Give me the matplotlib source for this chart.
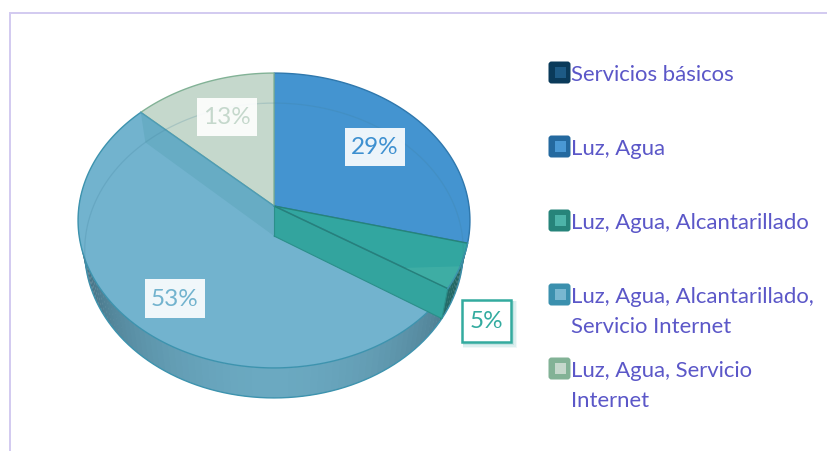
import numpy as np
import matplotlib
matplotlib.use("Agg")
import matplotlib.pyplot as plt
from matplotlib.patches import Polygon, Rectangle, FancyBboxPatch

# data
categories = ["Servicios básicos", "Luz, Agua", "Luz, Agua, Alcantarillado",
              "Luz, Agua, Alcantarillado,\nServicio Internet",
              "Luz, Agua, Servicio\nInternet"]
values = [0, 29, 5, 53, 13]
labels = ["", "29%", "5%", "53%", "13%"]

top_colors = ["#1d5a85", "#4494d0", "#32a6a0", "#72b3ce", "#c5d8cc"]
edge_colors = ["#0a3a5a", "#2f78ad", "#26847a", "#3d93ae", "#82b296"]
swatch_inner = ["#1d5a85", "#4a98d4", "#4cb3a8", "#78b7d0", "#c5d8cc"]
swatch_outer = ["#0a3a5a", "#24699f", "#26847a", "#3b90ae", "#82b296"]
label_colors = ["#000000", "#3e90d0", "#33ab9f", "#72b3ce", "#c5d8cc"]
text_color = "#5b57c8"

# pie geometry, in pixels
cx, cy = 274, 206
rx, ry = 195, 146
persp = -0.0983
depth = 30
lower_scale = 0.966

plt.rcParams["font.family"] = ["Lato", "DejaVu Sans"]


def proj(theta, dz=0):
    # theta in degrees, clockwise from top, perspective tilted circle
    t = np.radians(theta)
    u, v = np.sin(t), -np.cos(t)
    d = 1 + persp * v
    # lower rim is a bit narrower than the top one
    sc = lower_scale if dz else 1
    return cx + sc * rx * u / d, cy + ry * v / d + dz


def arc(a, b, dz=0):
    th = np.linspace(a, b, max(int(abs(b - a)), 2) + 1)
    x, y = proj(th, dz)
    return np.column_stack([x, y])


def mix(c1, c2, t):
    a = np.array(matplotlib.colors.to_rgb(c1))
    b = np.array(matplotlib.colors.to_rgb(c2))
    return tuple(a + (b - a) * t)


fig = plt.figure(figsize=(8.27, 4.51), dpi=100)
ax = fig.add_axes([0, 0, 1, 1])
ax.set_xlim(0, 827)
ax.set_ylim(451, 0)
ax.axis("off")

# frame
ax.plot([10, 10, 827], [451, 13, 13], color="#d2caf0", lw=1.4, solid_joinstyle="miter")

cum = np.cumsum([0] + values) * 3.6

# side wall
for th in np.arange(84, 278, 2.0):
    q = np.vstack([arc(th, th + 2.4), arc(th + 2.4, th, depth)])
    k = min(abs(th - 180) / 90, 1) ** 1.7
    if th < cum[2]:
        base, dark = "#2f7f90", "#1d4a55"
    elif th < cum[3]:
        base, dark = "#2f8f88", "#1a4a4a"
    else:
        base, dark = "#6ba9c1", "#2e4f5e"
    ax.add_patch(Polygon(q, closed=True, fc=mix(base, dark, k), ec="none", zorder=2))
ax.plot(*arc(92, 272, depth).T, color="#3d93ae", lw=1, zorder=3)

# top surface of the slices
for i in range(len(values)):
    if values[i] == 0:
        continue
    pts = np.vstack([[cx, cy], arc(cum[i], cum[i + 1])])
    ax.add_patch(Polygon(pts, closed=True, fc=top_colors[i], ec=edge_colors[i],
                         lw=1, alpha=1, zorder=4))

# cut walls of the big slice, seen through the surface
a = cum[3]
b = cum[4]
p1 = np.array(proj(a))
p1b = np.array(proj(a, depth))
ax.add_patch(Polygon([[cx, cy], p1, p1b, [cx, cy + depth]], closed=True,
                     fc="#33a49e", ec="#2b8f8a", lw=0.8, zorder=5))
p2 = np.array(proj(b))
p2b = np.array(proj(b, depth))
ax.add_patch(Polygon([[cx, cy], p2, p2b, [cx, cy + depth]], closed=True,
                     fc="#67acc4", ec="none", zorder=5))

# lighter sliver of the small slice, next to the cut
sliver_start = np.array([cx, cy]) + 0.75 * (p1 - np.array([cx, cy]))
ax.add_patch(Polygon(np.vstack([sliver_start, arc(a, a - 9)]), closed=True,
                     fc="#42b0a6", ec="none", alpha=0.8, zorder=5))

ax.plot([cx, p1[0]], [cy, p1[1]], color="#26807c", lw=1, zorder=6)
ax.plot([cx, p2[0]], [cy, p2[1]], color="#4f9cb4", lw=1, zorder=6)
ax.plot([cx, cx], [cy, cy + depth], color="#2b8f8a", lw=0.8, zorder=6)
ax.plot(*arc(cum[2], cum[3]).T, color="#3d93ae", lw=1, zorder=6)

# faint rim of the lower ellipse showing through
ax.plot(*arc(250, 470, depth).T, color="#3f7f9a", lw=0.9, alpha=0.22, zorder=6)

# data labels
label_boxes = {1: (345, 128, 60, 38), 2: (462, 300, 49, 42), 3: (145, 279, 60, 39), 4: (197, 98, 60, 38)}
for i, (x, y, w, h) in label_boxes.items():
    for s, al in [(5, 0.07), (3.5, 0.1), (2, 0.14)]:
        ax.add_patch(Rectangle((x + 1, y + 1), w + s, h + s, fc=top_colors[i], ec="none",
                               alpha=al, zorder=7))
    if i == 2:
        ax.add_patch(Rectangle((x, y), w, h, fc="white", ec=label_colors[i], lw=1.8, zorder=8))
    else:
        ax.add_patch(Rectangle((x, y), w, h, fc="white", ec="none", alpha=0.9, zorder=8))
    ax.text(x + w / 2, y + h / 2 + 1, labels[i], color=label_colors[i], fontsize=17.5,
            ha="center", va="center", zorder=9)

# legend
legend_y = [73, 147, 221, 295, 369]
for i, name in enumerate(categories):
    y = legend_y[i]
    ax.add_patch(FancyBboxPatch((550, y - 10), 19, 19, boxstyle="round,pad=1.5,rounding_size=3",
                                fc=swatch_outer[i], ec="none", zorder=3))
    ax.add_patch(Rectangle((554.5, y - 6), 11, 11, fc=swatch_inner[i], ec="none", zorder=4))
    ax.text(571, y - 8, name, color=text_color, fontsize=15.9, va="top", ha="left",
            linespacing=1.62, zorder=4)

fig.savefig("out.png", dpi=100)
